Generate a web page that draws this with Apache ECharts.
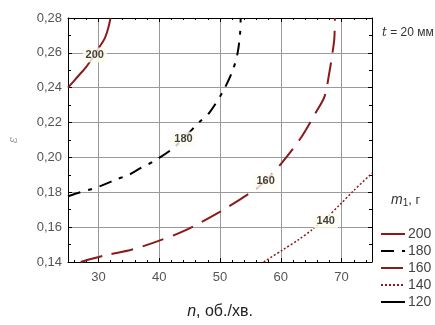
<!DOCTYPE html>
<html>
<head>
<meta charset="utf-8">
<script src="https://cdn.jsdelivr.net/npm/echarts@6/dist/echarts.min.js"></script>
<style>
  html, body { margin: 0; padding: 0; background: #fff; }
  #chart { width: 435px; height: 325px; }
</style>
</head>
<body>
<div id="chart"></div>
<script>
// contour lines eps(n) for different m1
const m200 = [[25, 0.24], [26.5, 0.246], [28, 0.252], [29, 0.257], [30, 0.2625], [31, 0.268], [31.6, 0.274], [32, 0.28]];
const m180 = [[25, 0.1777], [27, 0.18], [29, 0.182], [31, 0.1845], [33, 0.1875], [35, 0.19], [37, 0.194], [39.2, 0.198],
    [42, 0.2045], [44, 0.211], [46.7, 0.2206], [48.3, 0.2259], [50.5, 0.238], [52.1, 0.25], [52.9, 0.26], [53.3, 0.271], [53.4, 0.28]];
const m160 = [[27.1, 0.14], [31.1, 0.1438], [35.4, 0.147], [39.8, 0.152], [44, 0.1577], [49.9, 0.1686], [55.3, 0.1805],
    [57.5, 0.1865], [60.2, 0.197], [63.4, 0.2117], [65.8, 0.226], [67.2, 0.235], [68, 0.249], [68.5, 0.26], [68.8, 0.268], [68.9, 0.28]];
const m140 = [[57.2, 0.14], [60.2, 0.1467], [63, 0.153], [65.2, 0.1586], [67.4, 0.165], [69.8, 0.1732], [72, 0.181], [75, 0.191]];
const m120 = [];
// inline contour labels [n, eps, text]
const contourLabels = [[29.4, 0.2588, '200'], [44, 0.2105, '180'], [57.5, 0.1863, '160'], [67.4, 0.1635, '140']];
const legendNames = ['200', '180', '160', '140', '120'];

const darkRed = '#8b1a1a';
const font = 'Liberation Sans, Arial, sans-serif';

const chart = echarts.init(document.getElementById('chart'));

const baseX = {
    type: 'value', min: 25, max: 75, splitNumber: 5,
    axisLine: {show: true, lineStyle: {color: '#000', width: 1}},
    axisTick: {show: true, inside: true, length: 4, lineStyle: {color: '#000'}},
    minorTick: {show: true, splitNumber: 5, length: 2, lineStyle: {color: '#000'}}
};
const baseY = {
    type: 'value', min: 0.14, max: 0.28, interval: 0.02,
    axisLine: {show: true, lineStyle: {color: '#000', width: 1}},
    axisTick: {show: true, inside: true, length: 4, lineStyle: {color: '#000'}},
    minorTick: {show: true, splitNumber: 2, length: 3, lineStyle: {color: '#000'}}
};

function line(name, data, color, type, width) {
    return {
        name: name, type: 'line', data: data, smooth: 0.3,
        symbol: 'none', showSymbol: false,
        lineStyle: {color: color, width: width, type: type},
        itemStyle: {color: color},
        z: 3
    };
}

const option = {
    animation: false,
    textStyle: {fontFamily: font},
    title: [
        {
            text: '{i|t} = 20 мм', left: 377, top: 22,
            textStyle: {fontSize: 12, fontWeight: 'normal', color: '#333', fontFamily: font,
                rich: {i: {fontStyle: 'italic', fontSize: 12, color: '#333', fontFamily: 'DejaVu Serif'}}}
        },
        {
            text: '{i|m}{s|1}, г', left: 386, top: 187,
            textStyle: {fontSize: 13, fontWeight: 'normal', color: '#333', fontFamily: font,
                rich: {
                    i: {fontStyle: 'italic', fontSize: 14, color: '#333', fontFamily: font},
                    s: {fontSize: 10, color: '#333', verticalAlign: 'bottom', padding: [6, 0, 0, 0]}
                }}
        }
    ],
    grid: {left: 62, right: 63, top: 18, bottom: 51},
    legend: {
        data: legendNames, orient: 'vertical', left: 375, top: 222,
        itemWidth: 24, itemHeight: 10, itemGap: 3,
        itemStyle: {opacity: 0},
        textStyle: {fontSize: 14, color: '#444', fontFamily: font, padding: [0, 0, 0, -2]}
    },
    xAxis: [
        Object.assign({}, baseX, {
            position: 'bottom',
            name: '{i|n}, об./хв.', nameLocation: 'middle', nameGap: 42,
            nameTextStyle: {fontSize: 16, color: '#222', fontFamily: font,
                rich: {i: {fontStyle: 'italic', fontSize: 16, color: '#222', fontFamily: font}}},
            axisLabel: {fontSize: 13, color: '#555', margin: 9, showMinLabel: false, showMaxLabel: false},
            splitLine: {show: true, lineStyle: {color: '#9a9a9a', width: 1}}
        }),
        Object.assign({}, baseX, {
            position: 'top', axisLabel: {show: false}, splitLine: {show: false}
        })
    ],
    yAxis: [
        Object.assign({}, baseY, {
            position: 'left',
            name: 'ε', nameLocation: 'middle', nameGap: 48, nameRotate: 90,
            nameTextStyle: {fontSize: 12, color: '#999', fontStyle: 'italic', fontFamily: 'DejaVu Serif'},
            axisLabel: {fontSize: 13, color: '#555', margin: 6,
                formatter: function (v) { return v.toFixed(2).replace('.', ','); }},
            splitLine: {show: true, lineStyle: {color: '#9a9a9a', width: 1}}
        }),
        Object.assign({}, baseY, {
            position: 'right', axisLabel: {show: false}, splitLine: {show: false}
        })
    ],
    series: [
        line('200', m200, darkRed, 'solid', 2),
        line('180', m180, '#000', [13, 8, 4, 8], 2),
        line('160', m160, darkRed, [22, 10], 2),
        line('140', m140, darkRed, [2, 2], 1.5),
        line('120', m120, '#000', 'solid', 2),
        {
            name: 'labels', type: 'scatter', data: contourLabels,
            symbolSize: 1, itemStyle: {color: 'rgba(0,0,0,0)'}, z: 10,
            label: {
                show: true, position: 'inside',
                formatter: function (p) { return p.value[2]; },
                fontSize: 11, fontWeight: 'bold', color: '#111', fontFamily: font,
                backgroundColor: '#fffcee', padding: [2, 3]
            }
        }
    ]
};

chart.setOption(option);
</script>
</body>
</html>
